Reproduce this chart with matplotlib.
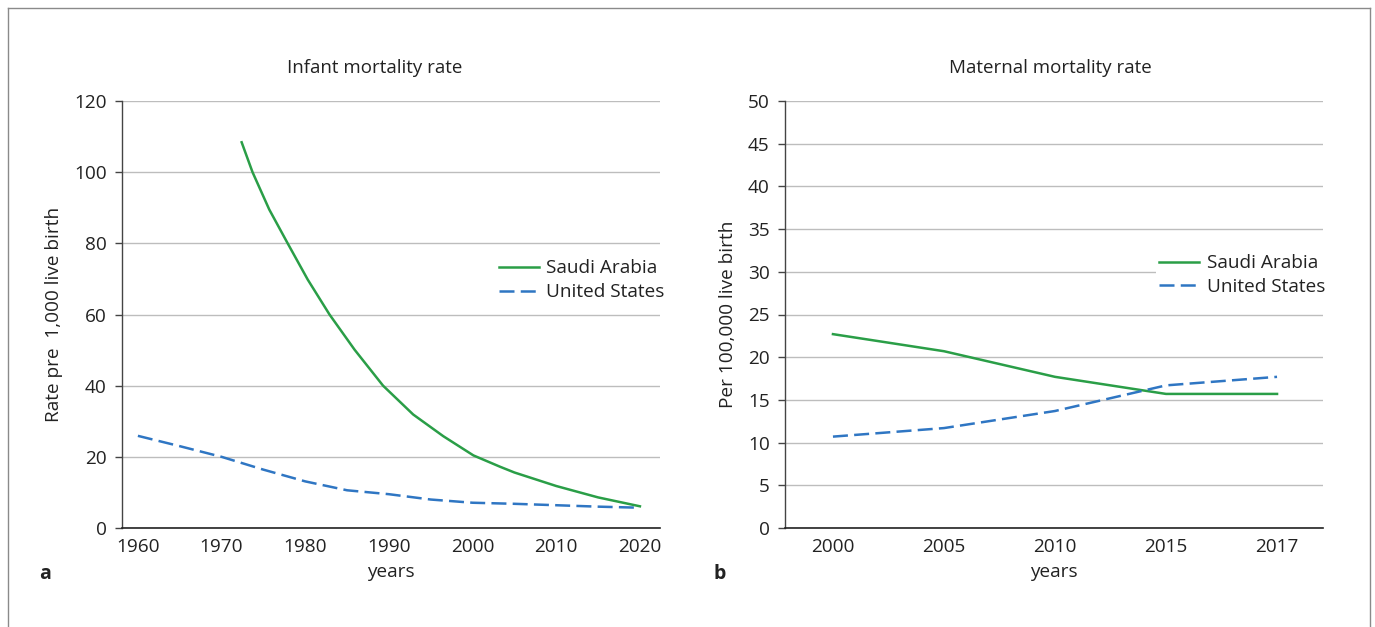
import matplotlib
matplotlib.use("Agg")
import matplotlib.pyplot as plt
from matplotlib.lines import Line2D

plt.rcParams['font.family'] = ['Open Sans', 'DejaVu Sans']
plt.rcParams['font.size'] = 13.7
plt.rcParams['text.color'] = '#222222'
plt.rcParams['axes.labelcolor'] = '#222222'
plt.rcParams['xtick.color'] = '#222222'
plt.rcParams['ytick.color'] = '#222222'

# infant mortality (per 1,000 live births)
sa_years = [1972.4, 1973.7, 1975.7, 1977.9, 1980.3, 1982.9, 1985.9, 1989.3, 1992.9, 1996.5,
            2000.1, 2003.3, 2005, 2010, 2015, 2020]
sa_infant = [108.4, 100, 89.5, 80, 69.8, 60, 50.1, 40, 31.9, 25.8,
             20.4, 17.2, 15.6, 11.8, 8.6, 6.1]
us_years = [1960, 1965, 1970, 1975, 1980, 1985, 1990, 1995, 2000, 2005, 2010, 2015, 2020]
us_infant = [25.9, 23, 20, 16.4, 13.1, 10.6, 9.5, 8.0, 7.1, 6.8, 6.4, 6.0, 5.7]

# maternal mortality (per 100,000 live births)
mat_labels = ['2000', '2005', '2010', '2015', '2017']
sa_maternal = [22.7, 20.7, 17.7, 15.7, 15.7]
us_maternal = [10.7, 11.7, 13.7, 16.7, 17.7]

green = '#2a9e47'
blue = '#2f76c3'
grid_c = '#bdbdbd'

fig = plt.figure(figsize=(13.75, 6.27), dpi=100)

# outer frame (left, top, right)
fx0, fx1, fy1 = 8 / 1375, 1370 / 1375, 1 - 8 / 627
for xs, ys in [([fx0, fx0], [-0.01, fy1]), ([fx0, fx1], [fy1, fy1]), ([fx1, fx1], [fy1, -0.01])]:
    fig.add_artist(Line2D(xs, ys, transform=fig.transFigure, color='#8a8a8a', lw=1))

ax1 = fig.add_axes([122 / 1375, 1 - 528 / 627, 538 / 1375, 427 / 627])
ax2 = fig.add_axes([785 / 1375, 1 - 528 / 627, 538 / 1375, 427 / 627])


def style(ax):
    for s in ['top', 'right']:
        ax.spines[s].set_visible(False)
    ax.spines['left'].set_color('#444444')
    ax.spines['bottom'].set_color('#222222')
    ax.spines['left'].set_linewidth(1)
    ax.spines['bottom'].set_linewidth(1.2)
    ax.yaxis.grid(True, color=grid_c, lw=1)
    ax.set_axisbelow(True)
    ax.tick_params(axis='x', length=0, pad=7)
    ax.tick_params(axis='y', length=5, width=1, color='#444444', pad=6)


style(ax1)
ax1.plot(sa_years, sa_infant, color=green, lw=1.8, label='Saudi Arabia')
ax1.plot(us_years, us_infant, color=blue, lw=1.8, dashes=(6, 2.5), label='United States')
ax1.set_xlim(1958.1, 2022.4)
ax1.set_ylim(0, 120)
ax1.set_xticks(range(1960, 2021, 10))
ax1.set_yticks(range(0, 121, 20))
ax1.set_title('Infant mortality rate', pad=20, fontsize=13.5, x=0.47)
ax1.set_ylabel('Rate pre  1,000 live birth', labelpad=8)
ax1.set_xlabel('years', labelpad=5)
ax1.legend(loc='center right', bbox_to_anchor=(1.032, 0.58), frameon=True,
           facecolor='white', edgecolor='none', framealpha=1, fancybox=False,
           handlelength=2.1, handletextpad=0.4, labelspacing=0.3, borderpad=0.15)

style(ax2)
xpos = list(range(len(mat_labels)))
ax2.plot(xpos, sa_maternal, color=green, lw=1.8, label='Saudi Arabia')
ax2.plot(xpos, us_maternal, color=blue, lw=1.8, dashes=(6, 2.5), label='United States')
ax2.set_xlim(-0.432, 4.414)
ax2.set_ylim(0, 50)
ax2.set_xticks(xpos)
ax2.set_xticklabels(mat_labels)
ax2.set_yticks(range(0, 51, 5))
ax2.set_title('Maternal mortality rate', pad=20, fontsize=13.5, x=0.4926)
ax2.set_ylabel('Per 100,000 live birth', labelpad=8)
ax2.set_xlabel('years', labelpad=5)
ax2.legend(loc='center right', bbox_to_anchor=(1.027, 0.592), frameon=True,
           facecolor='white', edgecolor='none', framealpha=1, fancybox=False,
           handlelength=2.1, handletextpad=0.4, labelspacing=0.3, borderpad=0.15)

fig.text(45 / 1375, 1 - 574 / 627, 'a', fontsize=14, fontweight='bold', va='center', ha='center')
fig.text(720 / 1375, 1 - 574 / 627, 'b', fontsize=14, fontweight='bold', va='center', ha='center')

fig.savefig('out.png', dpi=100, facecolor='white')
